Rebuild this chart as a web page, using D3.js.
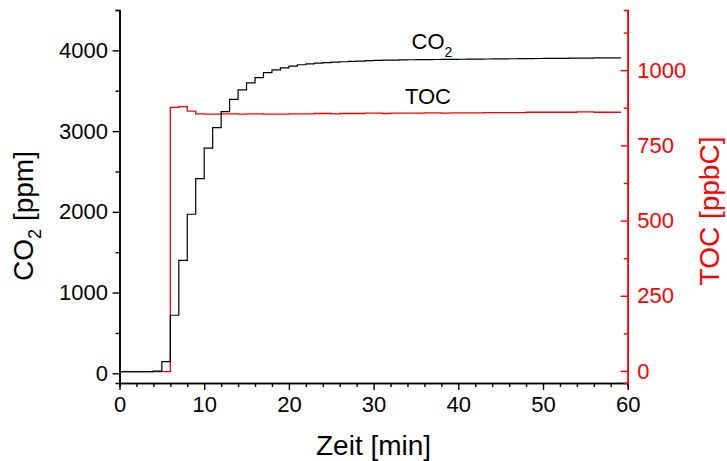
<!DOCTYPE html>
<html>
<head>
<meta charset="utf-8">
<script src="https://cdn.jsdelivr.net/npm/d3@7/dist/d3.min.js"></script>
<style>
  html, body { margin: 0; padding: 0; background: #fff; }
  svg { display: block; font-family: "Liberation Sans", Arial, sans-serif; }
</style>
</head>
<body>
<svg id="chart" width="727" height="461"></svg>
<script>
// ---- data ----
const timeMin = [0,1,2,3,4,5,6,7,8,9,10,11,12,13,14,15,16,17,18,19,20,21,22,23,24,25,26,27,28,29,
                 30,31,32,33,34,35,36,37,38,39,40,41,42,43,44,45,46,47,48,49,50,51,52,53,54,55,56,57,58,59];
const endTime = 59.2;
const co2Ppm = [20,20,20,20,28,144,719,1400,1970,2411,2788,3043,3242,3393,3510,3597,3663,3725,3758,3783,
                3806,3822,3833,3841,3848,3854,3859,3864,3868,3872,3875,3878,3880,3882,3884,3885,3886,3887,3888,3889,
                3890,3891,3892,3893,3894,3895,3896,3897,3898,3899,3900,3901,3902,3903,3904,3905,3906,3907,3908,3908];
const tocPpbC = [-2,-2,-2,-2,-2,-2,876,879,864,855,854,854,855,855,854,855,855,854,854,854,
                 855,855,855,856,856,855,856,856,856,857,857,856,857,857,857,857,858,858,857,858,
                 858,858,858,859,859,859,859,859,860,860,860,860,860,860,861,861,860,860,860,860];
const xTicks = [0,10,20,30,40,50,60];
const xMinorTicks = [2,4,6,8,12,14,16,18,22,24,26,28,32,34,36,38,42,44,46,48,52,54,56,58];
const co2Ticks = [0,1000,2000,3000,4000];
const co2MinorTicks = [500,1500,2500,3500,4500];
const tocTicks = [0,250,500,750,1000];
const tocMinorTicks = [125,375,625,875,1125];
const seriesLabels = {co2: "CO", toc: "TOC"};

(function () {
// ---- layout ----
const svg = d3.select("#chart");
const pLeft = 119.5, pRight = 627.7, pTop = 10, pBottom = 383;
const x = d3.scaleLinear().domain([0, 60]).range([pLeft, pRight]);
const yL = d3.scaleLinear().domain([-120, 4500]).range([pBottom, pTop]);
const yR = d3.scaleLinear().domain([-40, 1200]).range([pBottom, pTop]);
const font = '"Liberation Sans", Arial, sans-serif';

function series(vals) {
  const pts = timeMin.map((t, i) => [t, vals[i]]);
  pts.push([endTime, vals[vals.length - 1]]);
  return pts;
}

// lines
const co2Line = d3.line().x(d => x(d[0])).y(d => yL(d[1])).curve(d3.curveStepAfter);
const tocLine = d3.line().x(d => x(d[0])).y(d => yR(d[1])).curve(d3.curveStepAfter);

svg.append("path").attr("d", tocLine(series(tocPpbC)))
  .attr("fill", "none").attr("stroke", "#ff0000").attr("stroke-width", 1.3);
svg.append("path").attr("d", co2Line(series(co2Ppm)))
  .attr("fill", "none").attr("stroke", "#000").attr("stroke-width", 1.2);

function styleAxis(g, color, size) {
  g.selectAll("path.domain").attr("stroke", color).attr("stroke-width", 1.6);
  g.selectAll(".tick line").attr("stroke", color).attr("stroke-width", 1.4);
  g.selectAll(".tick text").attr("fill", color).style("font-size", size + "px").style("font-family", font);
}

// bottom axis
const gxMinor = svg.append("g").attr("transform", `translate(0,${pBottom})`)
  .call(d3.axisBottom(x).tickValues(xMinorTicks).tickSize(4).tickFormat(""));
styleAxis(gxMinor, "#000", 22);
const gx = svg.append("g").attr("transform", `translate(0,${pBottom})`)
  .call(d3.axisBottom(x).tickValues(xTicks).tickSize(7).tickSizeOuter(0).tickPadding(6).tickFormat(d3.format("d")));
styleAxis(gx, "#000", 22);

// left axis
const gyMinor = svg.append("g").attr("transform", `translate(${pLeft},0)`)
  .call(d3.axisLeft(yL).tickValues(co2MinorTicks).tickSize(4).tickFormat(""));
styleAxis(gyMinor, "#000", 22);
const gy = svg.append("g").attr("transform", `translate(${pLeft},0)`)
  .call(d3.axisLeft(yL).tickValues(co2Ticks).tickSize(7).tickSizeOuter(0).tickPadding(4.5).tickFormat(d3.format("d")));
styleAxis(gy, "#000", 22);

// right axis (ticks inward)
const grMinor = svg.append("g").attr("transform", `translate(${pRight},0)`)
  .call(d3.axisRight(yR).tickValues(tocMinorTicks).tickSize(-4).tickFormat(""));
styleAxis(grMinor, "#ff0000", 22);
const gr = svg.append("g").attr("transform", `translate(${pRight},0)`)
  .call(d3.axisRight(yR).tickValues(tocTicks).tickSize(-7).tickSizeOuter(0).tickPadding(9.5).tickFormat(d3.format("d")));
styleAxis(gr, "#ff0000", 22);

// axis titles
svg.append("text").attr("x", x(30)).attr("y", 455).attr("text-anchor", "middle")
  .style("font-size", "28px").style("font-family", font).attr("fill", "#000").text("Zeit [min]");

const lt = svg.append("text").attr("transform", "translate(33,216) rotate(-90)")
  .attr("text-anchor", "middle").style("font-size", "28px").style("font-family", font).attr("fill", "#000");
lt.append("tspan").text("CO");
lt.append("tspan").attr("dy", 8).style("font-size", "18px").text("2");
lt.append("tspan").attr("dy", -8).text(" [ppm]");

svg.append("text").attr("transform", "translate(719,211) rotate(-90)")
  .attr("text-anchor", "middle").style("font-size", "28px").style("font-family", font)
  .attr("fill", "#ff0000").text("TOC [ppbC]");

// series annotations
const ct = svg.append("text").attr("x", 411.5).attr("y", 49)
  .style("font-size", "22px").style("font-family", font).attr("fill", "#000");
ct.append("tspan").text(seriesLabels.co2);
ct.append("tspan").attr("dy", 8).style("font-size", "14px").text("2");

svg.append("text").attr("x", 428).attr("y", 104).attr("text-anchor", "middle")
  .style("font-size", "22px").style("font-family", font).attr("fill", "#000").text(seriesLabels.toc);
})();
</script>
</body>
</html>
